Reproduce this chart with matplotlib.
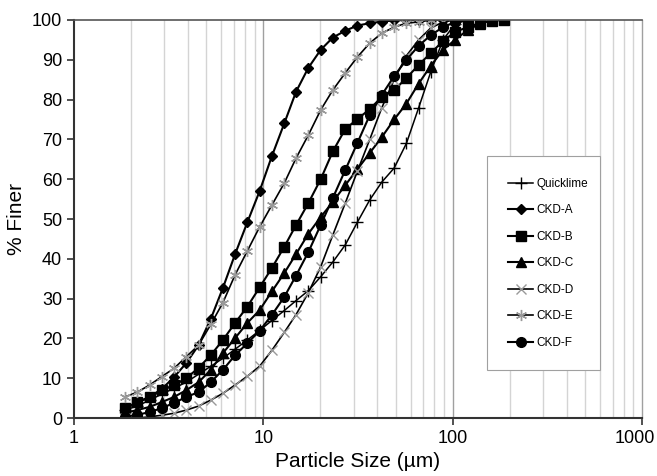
import matplotlib.pyplot as plt
from matplotlib.ticker import FixedLocator, NullFormatter
from matplotlib.transforms import ScaledTranslation

plt.rcParams['font.family'] = ['Liberation Sans', 'DejaVu Sans']

# particle sizes (um), shared by all samples
sizes = [1.86, 2.16, 2.51, 2.91, 3.38, 3.92, 4.55, 5.28, 6.12, 7.10,
         8.24, 9.56, 11.1, 12.9, 14.9, 17.3, 20.1, 23.3, 27.1, 31.4,
         36.5, 42.3, 49.1, 57.0, 66.1, 76.7, 89.0, 103, 120, 139,
         161, 187]

quicklime = [2.0, 3.0, 4.5, 6.0, 7.5, 9.0, 11.0, 13.0, 15.0, 17.3,
             19.6, 22.0, 24.5, 27.0, 29.5, 32.0, 35.5, 39.2, 43.5, 49.2,
             54.8, 59.3, 62.8, 69.0, 77.9, 87.0, 95.0, 99.0, 100.0]
ckd_a = [2.5, 3.8, 5.3, 7.3, 10.3, 13.8, 18.3, 24.9, 32.7, 41.2,
         49.2, 57.0, 65.8, 74.0, 82.0, 88.0, 92.5, 95.6, 97.3, 98.6,
         99.2, 99.6, 99.9, 100.0, 100.0, 100.0, 100.0]
ckd_b = [2.5, 4.0, 5.3, 7.0, 8.3, 10.0, 12.6, 15.8, 19.6, 23.9,
         28.0, 32.8, 37.7, 43.0, 48.5, 54.0, 60.0, 67.0, 72.6, 75.1,
         77.6, 80.7, 82.4, 85.4, 88.7, 91.7, 94.7, 97.0, 98.2, 99.2,
         99.8, 100.0]
ckd_c = [1.3, 2.0, 2.8, 4.0, 5.3, 7.0, 9.0, 12.1, 16.3, 20.1,
         23.9, 27.1, 31.8, 36.4, 41.2, 46.3, 50.5, 54.3, 58.5, 62.5,
         66.6, 70.6, 75.0, 79.0, 84.0, 88.5, 92.5, 95.0, 97.5, 99.0,
         100.0]
ckd_d = [0.0, 0.0, 0.3, 0.7, 1.2, 2.0, 3.0, 4.5, 6.2, 8.3,
         10.5, 13.0, 17.0, 21.5, 26.0, 31.5, 38.0, 46.0, 54.0, 62.0,
         70.0, 78.0, 85.0, 91.0, 95.0, 98.0, 99.5, 100.0]
ckd_e = [5.3, 6.5, 8.3, 10.4, 12.5, 15.4, 18.3, 23.5, 29.0, 36.0,
         42.0, 48.0, 53.5, 59.0, 65.3, 71.1, 77.4, 82.4, 86.7, 90.7,
         94.2, 96.7, 98.2, 99.2, 99.5, 100.0]
ckd_f = [0.3, 0.8, 1.5, 2.5, 3.8, 5.3, 6.5, 9.0, 12.1, 15.8,
         18.8, 21.9, 25.9, 30.4, 35.8, 41.7, 48.5, 55.3, 62.3, 69.1,
         76.1, 81.2, 85.9, 90.0, 93.5, 96.2, 98.2, 99.5, 100.0]

series = [
    ('Quicklime', quicklime, dict(marker='+', ms=8, mec='black', mew=1.0, lw=1.1)),
    ('CKD-A', ckd_a, dict(marker='D', ms=5.5, mfc='black', mec='black', lw=1.5)),
    ('CKD-B', ckd_b, dict(marker='s', ms=7, mfc='black', mec='black', lw=1.5)),
    ('CKD-C', ckd_c, dict(marker='^', ms=7, mfc='black', mec='black', lw=1.5)),
    ('CKD-D', ckd_d, dict(marker='x', ms=7, mec='#999999', mew=1.0, lw=1.2)),
    ('CKD-E', ckd_e, dict(marker=(6, 2, 0), ms=8, mec='#999999', mew=1.0, lw=1.2)),
    ('CKD-F', ckd_f, dict(marker='o', ms=7, mfc='black', mec='black', lw=1.5)),
]

fig = plt.figure(figsize=(6.57, 4.76), dpi=100)
ax = fig.add_axes([0.1126, 0.1218, 0.8645, 0.8362])

for label, vals, style in series:
    ax.plot(sizes[:len(vals)], vals, color='black', label=label, **style)

ax.set_xscale('log')
ax.set_xlim(1, 1000)
ax.set_ylim(0, 100)
ax.set_yticks(range(0, 101, 10))
ax.xaxis.set_major_locator(FixedLocator([1, 10, 100, 1000]))
ax.set_xticklabels(['1', '10', '100', '1000'])
minors = [m * d for d in (1, 10, 100) for m in range(2, 10)]
ax.xaxis.set_minor_locator(FixedLocator(minors))
ax.xaxis.set_minor_formatter(NullFormatter())

for x in minors:
    ax.axvline(x, color='#d4d4d4', lw=1.0, zorder=0)
for x in (10, 100):
    ax.axvline(x, color='#a0a0a0', lw=1.0, zorder=0)

ax.tick_params(axis='both', which='major', labelsize=13, direction='out',
               length=5, width=1.2, color='#333333')
ax.tick_params(axis='x', which='minor', length=0)

# keep the last tick label inside the canvas
last = ax.get_xticklabels()[-1]
last.set_transform(last.get_transform() + ScaledTranslation(-5 / 72, 0, fig.dpi_scale_trans))

for side in ('left', 'bottom'):
    ax.spines[side].set_color('#333333')
    ax.spines[side].set_linewidth(1.5)
ax.spines['top'].set_color('#555555')
ax.spines['top'].set_linewidth(1.2)
ax.spines['right'].set_color('#a0a0a0')
ax.spines['right'].set_linewidth(1.0)

ax.set_xlabel('Particle Size (µm)', fontsize=15)
ax.set_ylabel('% Finer', fontsize=15)

leg = ax.legend(loc='lower left', bbox_to_anchor=(0.727, 0.1206, 0.199, 0.53),
                mode='expand', borderaxespad=0,
                fontsize=8.5, labelspacing=1.23, handlelength=2.1,
                handletextpad=0.3, borderpad=1.8, fancybox=False, framealpha=1)
leg.get_frame().set_edgecolor('#a0a0a0')
leg.get_frame().set_linewidth(0.8)

fig.savefig('out.png', dpi=100)
